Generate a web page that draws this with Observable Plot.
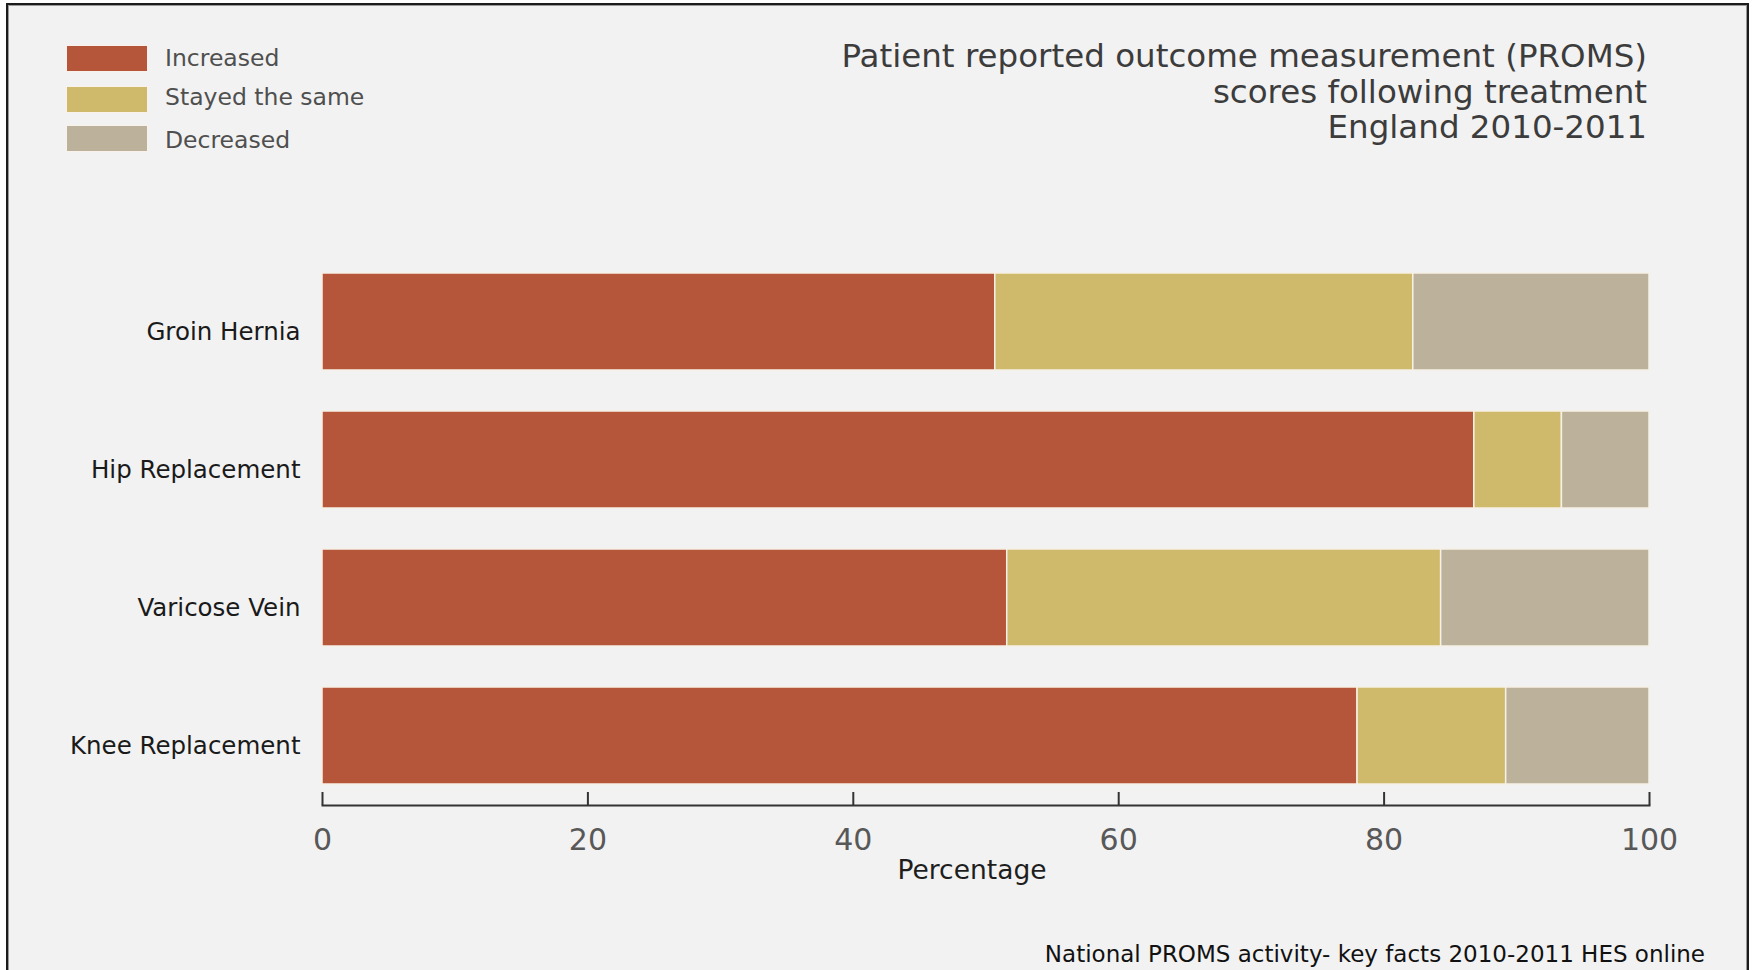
<!DOCTYPE html>
<html>
<head>
<meta charset="utf-8">
<script src="https://cdn.jsdelivr.net/npm/d3@7"></script>
<script src="https://cdn.jsdelivr.net/npm/@observablehq/plot@0.6"></script>
<style>
  html, body { margin: 0; padding: 0; background: #ffffff; }
  #page { position: relative; width: 1752px; height: 970px; overflow: hidden; background: #ffffff; }
  #panel {
    position: absolute; left: 6px; top: 3px; width: 1739px; height: 1000px;
    background: #f2f2f2; border: 2px solid #1c1c1c; border-bottom: none;
    box-shadow: inset 1px 1px 0 #9a9a9a, inset -1px 0 0 #9a9a9a;
  }
  #chart { position: absolute; left: 0; top: 0; }
  .txt { position: absolute; font-family: "DejaVu Sans", sans-serif; white-space: nowrap; }
  #title { right: 105px; top: 39px; text-align: right; font-size: 32.5px; line-height: 35.5px; color: #3c3c3c; }
  #legend { left: 67px; top: 46px; }
  .row { position: absolute; left: 0; height: 25px; }
  .sw { position: absolute; left: 0; top: 0; width: 80px; height: 25px; box-shadow: 0 0 0 1px rgba(255,240,230,0.6); }
  .lab { position: absolute; left: 98px; top: 12.5px; transform: translateY(-52%); font-size: 23.5px; color: #4f4f4f; }
  #caption { right: 47px; top: 941px; font-size: 23px; color: #111; }
</style>
</head>
<body>
<div id="page">
  <div id="panel"></div>
  <div id="chart"></div>
  <div id="legend" class="txt"></div>
  <div id="title" class="txt">Patient reported outcome measurement (PROMS)<br>scores following treatment<br>England 2010-2011</div>
  <div id="caption" class="txt">National PROMS activity- key facts 2010-2011 HES online</div>
</div>
<script>
// Procedures, top to bottom
const procedures = ["Groin Hernia", "Hip Replacement", "Varicose Vein", "Knee Replacement"];
// Outcome of the PROMS score after treatment
const outcomes = ["Increased", "Stayed the same", "Decreased"];
const outcomeColors = ["#b5553a", "#cfb96b", "#bcb29b"];
// Share of patients (%) per procedure
const increased  = [50.7, 86.8, 51.6, 78.0];
const stayedSame = [31.5, 6.6, 32.7, 11.2];
const decreased  = [17.8, 6.6, 15.7, 10.8];
const xTicks = [0, 20, 40, 60, 80, 100];

const series = [increased, stayedSame, decreased];
const rows = [];
outcomes.forEach((outcome, i) => {
  procedures.forEach((procedure, j) => {
    rows.push({procedure, outcome, value: series[i][j]});
  });
});

const bandStart = 230.2, bandEnd = 825.7;

const chart = Plot.plot({
  width: 1752,
  height: 970,
  marginLeft: 322,
  marginRight: 103,
  marginTop: 230,
  marginBottom: 165,
  style: {background: "transparent", fontFamily: "DejaVu Sans, sans-serif", overflow: "visible"},
  x: {domain: [0, 100]},
  y: {domain: procedures, range: [bandStart, bandEnd], padding: 0.3},
  color: {domain: outcomes, range: outcomeColors},
  marks: [
    Plot.barX(rows, {
      x: "value", y: "procedure", fill: "outcome", order: outcomes,
      stroke: "#f6f1e6", strokeWidth: 1.5
    }),
    Plot.frame({anchor: "bottom", stroke: "#333", strokeWidth: 2}),
    Plot.axisX({ticks: xTicks, tickSize: 13, dy: -13, fill: "none", stroke: "#333", strokeWidth: 2, label: null}),
    Plot.axisX({ticks: xTicks, tickSize: 0, tickPadding: 23, fontSize: 30, fill: "#585858", label: null}),
    Plot.text(["Percentage"], {frameAnchor: "bottom", dy: 73, dx: -14, fontSize: 26.5, fill: "#1e1e1e"}),
    Plot.axisY({tickSize: 0, tickPadding: 22, dy: 10, fontSize: 24.5, fill: "#1a1a1a", label: null})
  ]
});
document.getElementById("chart").appendChild(chart);

// Legend swatches built from the same outcome scale
const legend = document.getElementById("legend");
const rowTops = [0, 41, 80];
const textShift = [0, -2, 2];
outcomes.forEach((o, i) => {
  const row = document.createElement("div");
  row.className = "row";
  row.style.top = rowTops[i] + "px";
  const sw = document.createElement("div");
  sw.className = "sw";
  sw.style.background = chart.scale("color").apply(o);
  const lab = document.createElement("div");
  lab.className = "lab";
  lab.style.marginTop = textShift[i] + "px";
  lab.textContent = o;
  row.appendChild(sw);
  row.appendChild(lab);
  legend.appendChild(row);
});
</script>
</body>
</html>
